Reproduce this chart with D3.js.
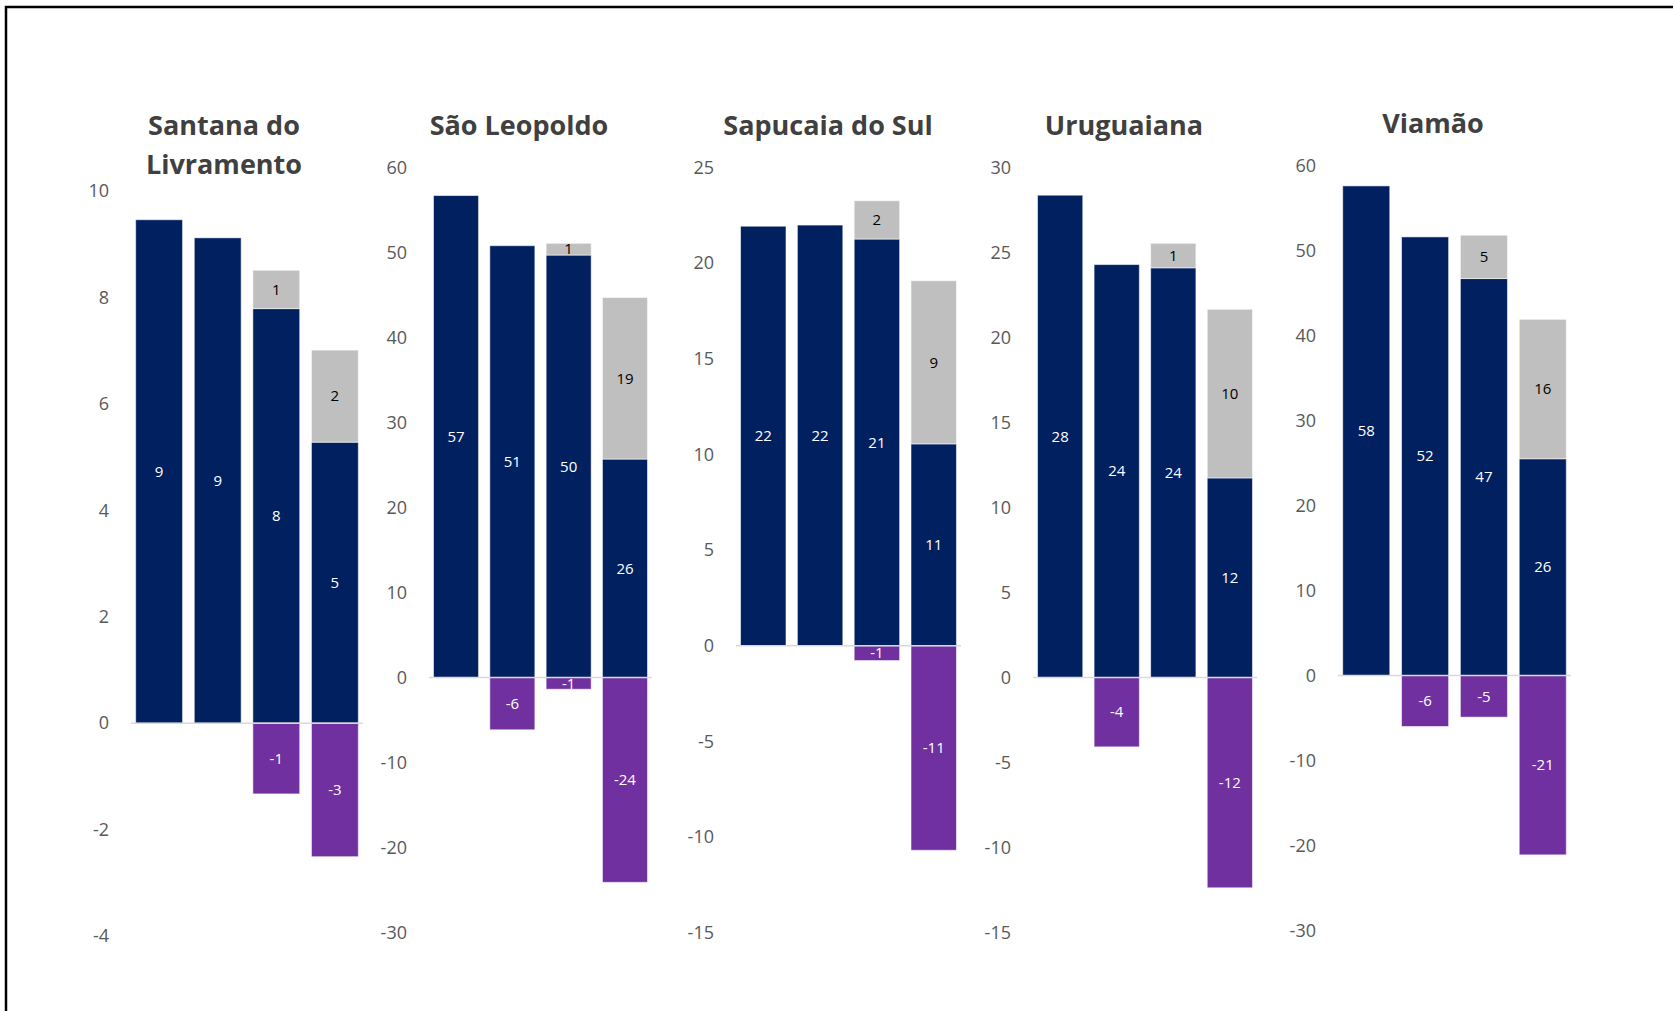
<!DOCTYPE html>
<html>
<head>
<meta charset="utf-8">
<script src="https://cdn.jsdelivr.net/npm/d3@7"></script>
<style>
  html, body { margin: 0; padding: 0; background: #fff; }
  svg { display: block; }
</style>
</head>
<body>
<svg id="chart" width="1673" height="1011"></svg>
<script>
// Municipalities, one small panel each
const cities = ["Santana do Livramento", "São Leopoldo", "Sapucaia do Sul", "Uruguaiana", "Viamão"];
const titleLines = [["Santana do", "Livramento"], ["São Leopoldo"], ["Sapucaia do Sul"], ["Uruguaiana"], ["Viamão"]];
const periods = ["p1", "p2", "p3", "p4"];

// Stacked series per municipality (4 bars each)
const navyValues = [
  [9.46, 9.12, 7.79, 5.28],
  [56.7, 50.8, 49.7, 25.7],
  [21.93, 21.99, 21.26, 10.55],
  [28.37, 24.29, 24.1, 11.74],
  [57.6, 51.6, 46.7, 25.5]
];
const greyValues = [
  [0, 0, 0.72, 1.73],
  [0, 0, 1.38, 19.0],
  [0, 0, 2.0, 8.53],
  [0, 0, 1.44, 9.92],
  [0, 0, 5.1, 16.4]
];
const purpleValues = [
  [0, 0, -1.33, -2.51],
  [0, -6.15, -1.38, -24.1],
  [0, 0, -0.78, -10.7],
  [0, -4.08, 0, -12.37],
  [0, -6.0, -4.9, -21.1]
];

// Value axis per panel
const yMin = [-4, -30, -15, -15, -30];
const yMax = [10, 60, 25, 30, 60];
const yStep = [2, 10, 5, 5, 10];

// Panel geometry
const panels = [
  { x0: 131, x1: 363, yTop: 191, yBot: 936, tx: 224, ty: 135, title2: 174 },
  { x0: 429, x1: 652, yTop: 167.5, yBot: 932.5, tx: 519, ty: 135 },
  { x0: 736, x1: 961, yTop: 167.5, yBot: 932.5, tx: 828, ty: 135 },
  { x0: 1033, x1: 1257, yTop: 167.5, yBot: 932.5, tx: 1124, ty: 135 },
  { x0: 1338, x1: 1571, yTop: 165.5, yBot: 930.5, tx: 1433, ty: 133 }
];

const colors = { navy: "#002060", grey: "#BFBFBF", purple: "#7030A0" };
const font = "'Open Sans', 'Liberation Sans', sans-serif";

const svg = d3.select("#chart");

// outer frame (only top and left edges fall inside the page)
svg.append("rect")
  .attr("x", 6).attr("y", 7)
  .attr("width", 1700).attr("height", 1050)
  .attr("fill", "none")
  .attr("stroke", "#000")
  .attr("stroke-width", 2.5);

const fmt = v => String(Math.round(v));

cities.forEach((city, i) => {
  const p = panels[i];
  const g = svg.append("g").attr("class", "panel").attr("data-city", city);

  const x = d3.scaleBand().domain(periods).range([p.x0, p.x1])
    .paddingInner(0.2).paddingOuter(0.08);
  const y = d3.scaleLinear().domain([yMin[i], yMax[i]]).range([p.yBot, p.yTop]);

  // title
  const t = g.append("text")
    .attr("x", p.tx).attr("y", p.ty)
    .attr("text-anchor", "middle")
    .attr("font-family", font)
    .attr("font-weight", 700)
    .attr("font-size", 27)
    .attr("fill", "#404040");
  titleLines[i].forEach((line, k) => {
    t.append("tspan").attr("x", p.tx).attr("dy", k === 0 ? 0 : (p.title2 - p.ty)).text(line);
  });

  // value axis
  const axis = d3.axisLeft(y)
    .tickValues(d3.range(yMin[i], yMax[i] + yStep[i] / 2, yStep[i]))
    .tickSize(0).tickPadding(0)
    .tickFormat(d => String(d));
  const ag = g.append("g").attr("transform", `translate(${p.x0 - 22},0)`).call(axis);
  ag.select(".domain").remove();
  ag.selectAll("text")
    .attr("font-family", font)
    .attr("font-size", 18)
    .attr("fill", "#595959");

  const rows = periods.map((per, j) => ({
    per,
    navy: navyValues[i][j],
    grey: greyValues[i][j],
    purple: purpleValues[i][j]
  }));

  const segs = [];
  rows.forEach(r => {
    segs.push({ per: r.per, lo: 0, hi: r.navy, v: r.navy, fill: colors.navy, txt: "#fff" });
    if (r.grey) segs.push({ per: r.per, lo: r.navy, hi: r.navy + r.grey, v: r.grey, fill: colors.grey, txt: "#000" });
    if (r.purple) segs.push({ per: r.per, lo: r.purple, hi: 0, v: r.purple, fill: colors.purple, txt: "#fff" });
  });

  g.selectAll("rect.seg").data(segs).join("rect")
    .attr("class", "seg")
    .attr("x", d => x(d.per))
    .attr("width", x.bandwidth())
    .attr("y", d => y(d.hi))
    .attr("height", d => y(d.lo) - y(d.hi))
    .attr("fill", d => d.fill)
    .attr("stroke", "rgba(255,255,255,0.55)")
    .attr("stroke-width", 1);

  // zero line
  g.append("line")
    .attr("x1", p.x0).attr("x2", p.x1)
    .attr("y1", y(0)).attr("y2", y(0))
    .attr("stroke", "#D9D9D9").attr("stroke-width", 1.5);

  g.selectAll("text.lbl").data(segs).join("text")
    .attr("class", "lbl")
    .attr("x", d => x(d.per) + x.bandwidth() / 2)
    .attr("y", d => (y(d.lo) + y(d.hi)) / 2)
    .attr("dy", "0.35em")
    .attr("text-anchor", "middle")
    .attr("font-family", font)
    .attr("font-size", 15)
    .attr("fill", d => d.txt)
    .text(d => fmt(d.v));
});
</script>
</body>
</html>
